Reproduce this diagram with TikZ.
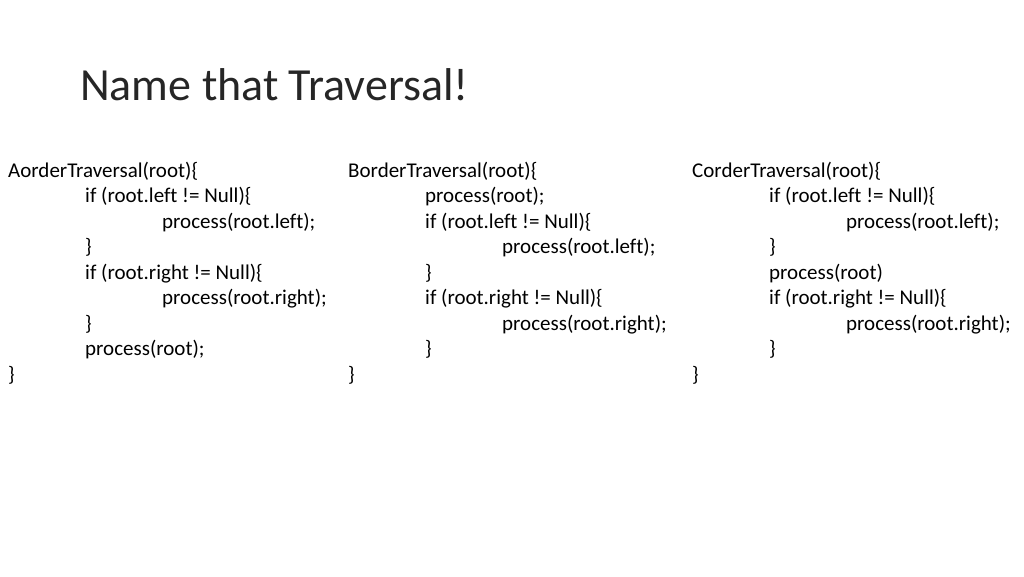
\documentclass[tikz,border=0pt]{standalone}
\usepackage{fontspec}
\setmainfont[Ligatures=NoCommon]{Carlito}
\begin{document}
\begin{tikzpicture}[x=1pt,y=-1pt,
  code/.style={anchor=base west,inner sep=0pt,font=\fontsize{21}{25}\selectfont},
  title/.style={anchor=base west,inner sep=0pt,font=\fontsize{46}{54}\selectfont,text=black!85}]
\useasboundingbox (0,0) rectangle (1024,576);
\node[title] (t) at (80,100) {Name that Traversal!};
% column A
\node[code] (a1) at (8,177) {AorderTraversal(root)\{};
\node[code] (a2) at (85,202.5) {if (root.left != Null)\{};
\node[code] (a3) at (162,228) {process(root.left);};
\node[code] (a4) at (85,253.5) {\}};
\node[code] (a5) at (85,279) {if (root.right != Null)\{};
\node[code] (a6) at (162,304.5) {process(root.right);};
\node[code] (a7) at (85,330) {\}};
\node[code] (a8) at (85,355.5) {process(root);};
\node[code] (a9) at (8,381) {\}};
% column B
\node[code] (b1) at (348,177) {BorderTraversal(root)\{};
\node[code] (b2) at (425,202.5) {process(root);};
\node[code] (b3) at (425,228) {if (root.left != Null)\{};
\node[code] (b4) at (502,253.5) {process(root.left);};
\node[code] (b5) at (425,279) {\}};
\node[code] (b6) at (425,304.5) {if (root.right != Null)\{};
\node[code] (b7) at (502,330) {process(root.right);};
\node[code] (b8) at (425,355.5) {\}};
\node[code] (b9) at (348,381) {\}};
% column C
\node[code] (c1) at (692,177) {CorderTraversal(root)\{};
\node[code] (c2) at (769,202.5) {if (root.left != Null)\{};
\node[code] (c3) at (846,228) {process(root.left);};
\node[code] (c4) at (769,253.5) {\}};
\node[code] (c5) at (769,279) {process(root)};
\node[code] (c6) at (769,304.5) {if (root.right != Null)\{};
\node[code] (c7) at (846,330) {process(root.right);};
\node[code] (c8) at (769,355.5) {\}};
\node[code] (c9) at (692,381) {\}};
\end{tikzpicture}
\end{document}
